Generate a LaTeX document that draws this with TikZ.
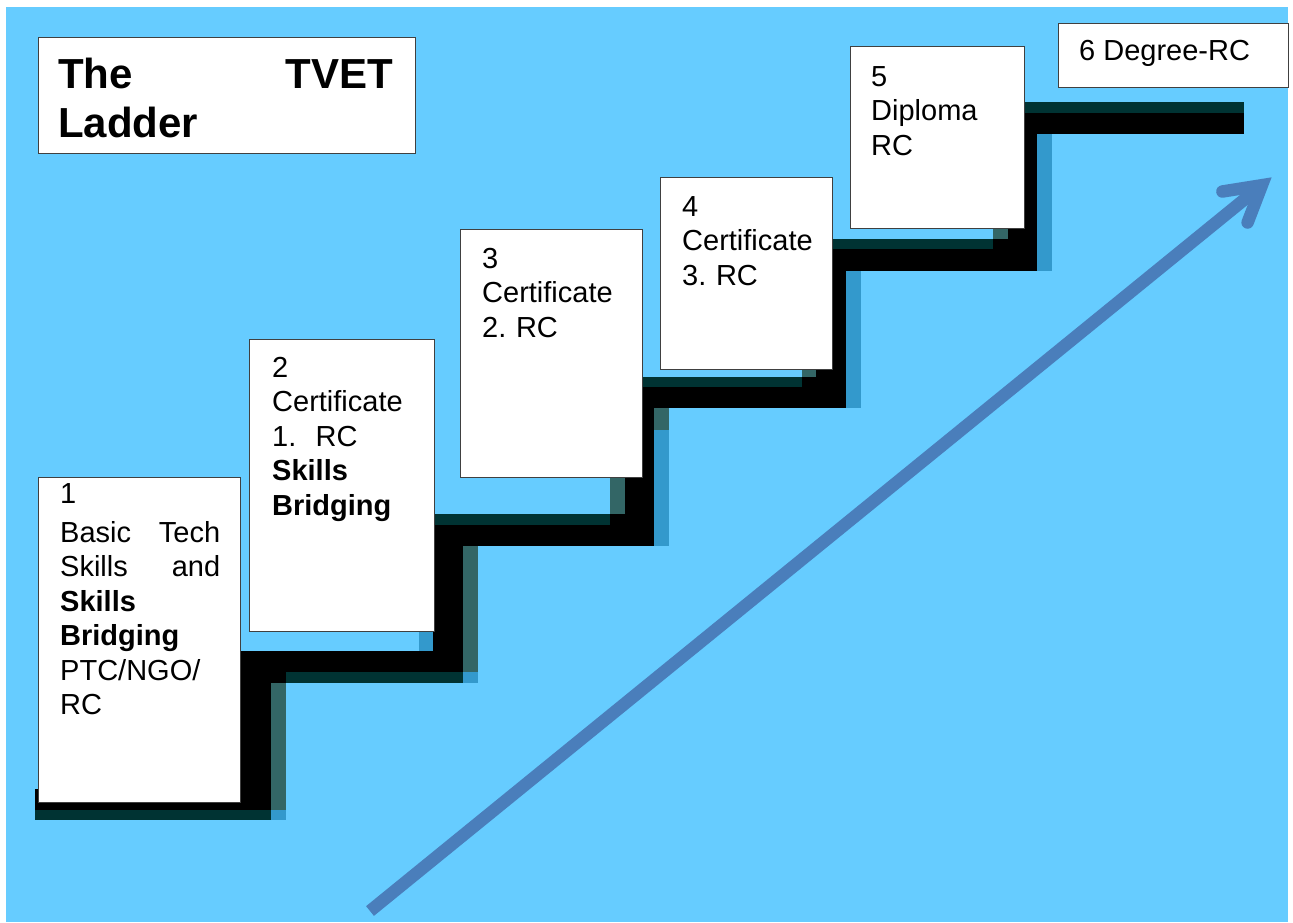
\documentclass[tikz,border=0pt]{standalone}
\usepackage{fontspec}
\setmainfont{Liberation Sans}
\frenchspacing
\definecolor{bgblue}{HTML}{66CCFF}
\definecolor{shlight}{HTML}{3399CC}
\definecolor{shmid}{HTML}{336666}
\definecolor{shdark}{HTML}{003333}
\definecolor{arrowblue}{HTML}{4A7EBB}
\definecolor{boxline}{HTML}{404040}
\begin{document}
\begin{tikzpicture}[x=1pt,y=-1pt,
  box/.style={draw=boxline, line width=1.3pt, fill=white, rectangle, inner sep=0pt, anchor=north west},
  txt/.style={inner sep=0pt, anchor=base west, align=left, font=\fontsize{29}{34.5}\selectfont},
  ttl/.style={inner sep=0pt, anchor=base west, align=left, font=\fontsize{42}{49}\selectfont\bfseries},
  stair/.style={fill=black},
  sha/.style={fill=shlight},
  shb/.style={fill=shmid},
  shc/.style={fill=shdark},
  arr/.style={draw=arrowblue, line width=12.5pt}]
\useasboundingbox (0,0) rectangle (1293,922);
\fill[bgblue] (6,7) rectangle (1288,922);

% light shadow pieces
\fill[sha] (271,810) rectangle (286,820);
\fill[sha] (463,672) rectangle (478,683);
\fill[sha] (419,600) rectangle (433,651);
\fill[sha] (654,430) rectangle (669,546);
\fill[sha] (846,271) rectangle (861,408);
\fill[sha] (1037,134) rectangle (1052,271);
% mid shadow pieces
\fill[shb] (271,683) rectangle (286,810);
\fill[shb] (463,546) rectangle (478,672);
\fill[shb] (610,450) rectangle (625,514);
\fill[shb] (654,408) rectangle (669,430);
\fill[shb] (802,340) rectangle (816,377);
\fill[shb] (993,200) rectangle (1008,239);
% dark shadow pieces
\fill[shc] (35,810) rectangle (271,820);
\fill[shc] (286,672) rectangle (463,683);
\fill[shc] (420,514) rectangle (610,525);
\fill[shc] (630,377) rectangle (802,387);
\fill[shc] (820,239) rectangle (993,249);
\fill[shc] (1010,102) rectangle (1244,113);

% black staircase
\fill[stair] (35,789) rectangle (271,810);
\fill[stair] (235,651) rectangle (271,810);
\fill[stair] (235,651) rectangle (463,672);
\fill[stair] (271,672) rectangle (286,683);
\fill[stair] (433,525) rectangle (463,672);
\fill[stair] (433,525) rectangle (654,546);
\fill[stair] (610,514) rectangle (625,525);
\fill[stair] (625,387) rectangle (654,546);
\fill[stair] (625,387) rectangle (846,408);
\fill[stair] (802,377) rectangle (816,387);
\fill[stair] (816,249) rectangle (846,408);
\fill[stair] (816,249) rectangle (1037,271);
\fill[stair] (993,239) rectangle (1008,249);
\fill[stair] (1008,113) rectangle (1037,271);
\fill[stair] (1008,113) rectangle (1244,134);

% boxes
\node[box, minimum width=377pt, minimum height=116pt] (title) at (38,37) {};
\node[box, minimum width=202pt, minimum height=325pt] (b1) at (38,477) {};
\node[box, minimum width=185pt, minimum height=292pt] (b2) at (249,339) {};
\node[box, minimum width=182pt, minimum height=248pt] (b3) at (460,229) {};
\node[box, minimum width=172pt, minimum height=192pt] (b4) at (660,177) {};
\node[box, minimum width=174pt, minimum height=182pt] (b5) at (850,46) {};
\node[box, minimum width=230pt, minimum height=64pt] (b6) at (1058,23) {};

% texts
\node[ttl, text width=335pt] (ttitle) at (58,88) {The\hfill TVET\\Ladder};
\node[txt, text width=160pt] (t1) at (60,503) {1\\[4.5pt]Basic\hfill Tech\\Skills\hfill and\\\textbf{Skills}\\\textbf{Bridging}\\PTC/NGO/\\RC};
\node[txt, text width=150pt] (t2) at (272,377) {2\\Certificate\\1.\ \ RC\\\textbf{Skills}\\\textbf{Bridging}};
\node[txt, text width=150pt] (t3) at (482,268) {3\\Certificate\\2. RC};
\node[txt, text width=140pt] (t4) at (682,216) {4\\Certificate\\3. RC};
\node[txt, text width=140pt] (t5) at (871,86) {5\\Diploma\\RC};
\node[txt] (t6) at (1079,60) {6 Degree-RC};

% arrow
\coordinate (astart) at (370,911);
\coordinate (atip) at (1261.9,185.2);
\coordinate (abarbA) at (1222.4,191.5);
\coordinate (abarbB) at (1247.6,222.5);
\draw[arr, line cap=butt] (astart) -- (atip);
\draw[arr, line cap=round, line join=miter] (abarbA) -- (atip) -- (abarbB);
\end{tikzpicture}
\end{document}
